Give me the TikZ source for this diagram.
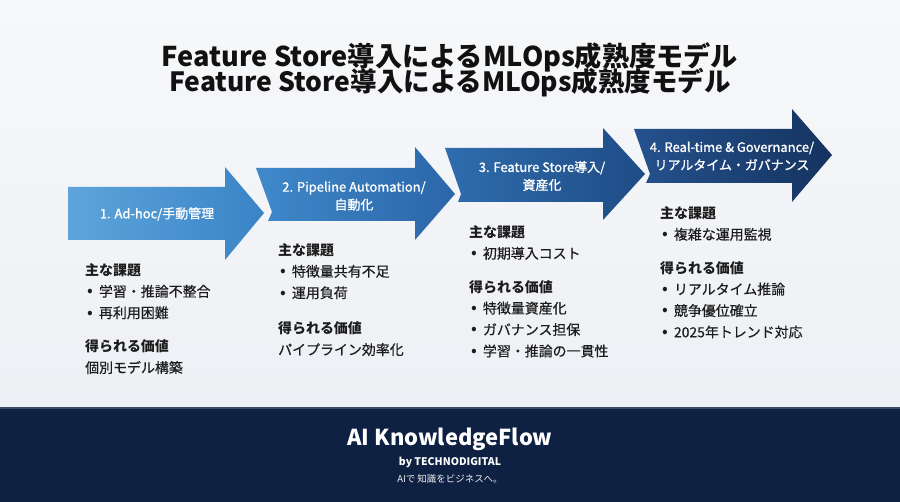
\documentclass[tikz,border=0pt]{standalone}
\usepackage{fontspec}
\setmainfont{Noto Sans CJK JP}
\newfontfamily\medfont{Noto Sans CJK JP}[FakeBold=1.2]
\newfontfamily\txtfont{Noto Sans CJK JP}[FakeBold=0.4]
\usepackage{tikz}
\usetikzlibrary{positioning}

\definecolor{bgtop}{HTML}{F7F8FA}
\definecolor{bgbot}{HTML}{EDF0F4}
\definecolor{footbg}{HTML}{0E2143}
\definecolor{footline}{HTML}{3C4A63}
\definecolor{ttlink}{HTML}{111111}
\definecolor{bodyink}{HTML}{1C1C1C}
\definecolor{aOneL}{HTML}{5EA4DC}
\definecolor{aOneR}{HTML}{3A84C6}
\definecolor{aTwoL}{HTML}{3F89CA}
\definecolor{aTwoR}{HTML}{2B66A9}
\definecolor{aThreeL}{HTML}{2F6DAE}
\definecolor{aThreeR}{HTML}{1F4C86}
\definecolor{aFourL}{HTML}{25528E}
\definecolor{aFourR}{HTML}{15335F}

\newcommand{\bul}{\hspace{2bp}{\rmfamily\fontsize{17}{21.5}\selectfont •}\hspace{6bp}}
\newcommand{\hd}[1]{{\rmfamily\bfseries #1}}

\begin{document}
\begin{tikzpicture}[x=1bp,y=-1bp,
  ttl/.style={font=\fontsize{27.3}{30}\selectfont\bfseries,text=ttlink,inner sep=0pt},
  lbl/.style={text=white,align=center,inner sep=0pt,
              font=\fontsize{13}{18}\selectfont\medfont},
  blk/.style={anchor=north west,align=left,inner sep=0pt,text=bodyink,
              font=\fontsize{14}{21.5}\selectfont\txtfont}]

  \useasboundingbox (0,0) rectangle (900,502);
  \shade[top color=bgtop,bottom color=bgbot] (0,0) rectangle (900,408);
  \fill[footbg] (0,408) rectangle (900,502);
  \draw[footline,line width=1.5bp] (0,408) -- (900,408);

  \node[ttl] (title1) at (450,57) {Feature Store導入によるMLOps成熟度モデル};
  \node[ttl,font=\fontsize{26.6}{30}\selectfont\bfseries] (title2) at (450,83)
    {Feature Store導入によるMLOps成熟度モデル};

  % maturity steps
  \shade[left color=aOneL,right color=aOneR]
    (68,187) -- (225,187) -- (225,167) -- (264,213) -- (225,260) -- (225,240)
    -- (68,240) -- cycle;
  \shade[left color=aTwoL,right color=aTwoR]
    (256,168) -- (415,168) -- (415,147) -- (455,194) -- (415,240) -- (415,221)
    -- (268,221) -- (272,212) -- cycle;
  \shade[left color=aThreeL,right color=aThreeR]
    (445,148) -- (603,148) -- (603,128) -- (645,174) -- (603,220) -- (603,202)
    -- (458,202) -- (461,194) -- cycle;
  \shade[left color=aFourL,right color=aFourR]
    (634,129) -- (792,129) -- (792,109) -- (832,155) -- (792,202) -- (792,183)
    -- (646,183) -- (650,174) -- cycle;

  \node[lbl] (step1) at (157,214) {1. Ad-hoc/手動管理};
  \node[lbl] (step2) at (354,196) {2. Pipeline Automation/\\自動化};
  \node[lbl] (step3) at (542,176) {3. Feature Store導入/\\資産化};
  \node[lbl] (step4) at (732,156) {4. Real-time \& Governance/\\リアルタイム・ガバナンス};

  \node[blk] (info1) at (85,263) {\hd{主な課題}\\
    \bul 学習・推論不整合\\ \bul 再利用困難\\[12bp]
    \hd{得られる価値}\\ 個別モデル構築};
  \node[blk] (info2) at (278,243) {\hd{主な課題}\\
    \bul 特徴量共有不足\\ \bul 運用負荷\\[14bp]
    \hd{得られる価値}\\ パイプライン効率化};
  \node[blk] (info3) at (469,225) {\hd{主な課題}\\
    \bul 初期導入コスト\\[12bp]
    \hd{得られる価値}\\ \bul 特徴量資産化\\ \bul ガバナンス担保\\
    \bul 学習・推論の一貫性};
  \node[blk] (info4) at (660,206) {\hd{主な課題}\\
    \bul 複雑な運用監視\\[12bp]
    \hd{得られる価値}\\ \bul リアルタイム推論\\ \bul 競争優位確立\\
    \bul 2025年トレンド対応};

  \node[font=\fontsize{22}{24}\selectfont\bfseries,text=white] (brand) at (450,439)
    {AI KnowledgeFlow};
  \node[font=\fontsize{10.5}{12}\selectfont\bfseries,text=white] (maker) at (450,462)
    {by TECHNODIGITAL};
  \node[font=\fontsize{9.5}{11}\selectfont,text=white!90!gray] (motto) at (450,479)
    {AIで 知識をビジネスへ。};

\end{tikzpicture}
\end{document}
